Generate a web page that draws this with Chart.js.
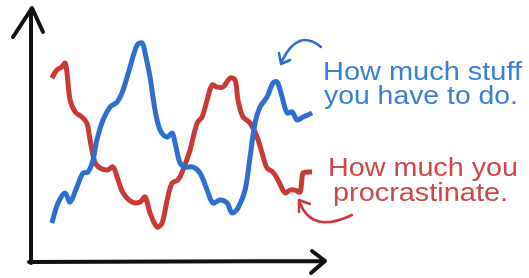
<!DOCTYPE html>
<html lang="en">
  <head>
    <meta charset="UTF-8" />
    <title>Stuff vs procrastination</title>
    <script src="https://cdn.jsdelivr.net/npm/chart.js@4"></script>
    <style>
      body { margin: 0; background: #fff; }
      #chartContainer { width: 529px; height: 278px; }
      #lineChart { filter: blur(0.6px); }
    </style>
  </head>

  <body>
    <div id="chartContainer">
      <canvas id="lineChart"></canvas>
    </div>

    <script>
      // time runs 0..100 along the x axis, amount 0..100 up the y axis
      const stuffX = [7.1, 9.2, 11.6, 13.3, 15.6, 17.7, 19.4, 21.1, 22.4, 24.5, 26.9, 29.3, 31.3, 33.7, 36.1, 37.8, 38.8, 40.5, 42.2, 43.9, 46.3, 48.0, 49.0, 50.7, 52.4, 55.1, 57.5, 59.9, 61.9, 64.3, 66.7, 68.4, 70.4, 72.8, 74.5, 76.2, 77.9, 80.3, 82.3, 83.7, 85.4, 87.1, 88.8, 90.5, 92.5, 94.2, 95.6];
      const stuffY = [15.4, 23.2, 27.2, 23.6, 29.5, 35.0, 35.4, 40.2, 48.0, 55.9, 61.0, 63.0, 67.7, 76.8, 85.4, 86.2, 82.3, 72.8, 59.8, 52.0, 49.2, 50.8, 46.9, 39.0, 37.4, 37.4, 35.0, 28.3, 23.2, 24.4, 23.2, 19.3, 21.3, 28.3, 41.3, 54.7, 61.0, 65.0, 70.5, 70.9, 65.0, 58.7, 59.1, 55.9, 57.1, 57.9, 58.7];

      const procX = [7.1, 8.8, 10.5, 11.6, 12.2, 13.3, 15.0, 17.3, 19.0, 20.1, 21.8, 23.5, 25.9, 27.9, 29.6, 31.3, 34.4, 37.1, 38.8, 40.5, 42.9, 44.6, 46.3, 48.0, 50.0, 51.7, 54.1, 56.5, 58.2, 59.9, 61.6, 63.3, 65.3, 67.7, 69.4, 70.4, 72.1, 74.5, 76.9, 78.6, 80.3, 82.3, 84.0, 86.4, 88.1, 89.8, 91.5, 92.5, 93.9, 95.6];
      const procY = [72.4, 75.6, 76.8, 78.3, 74.8, 63.8, 59.1, 57.1, 54.7, 48.0, 39.0, 37.0, 36.2, 37.4, 32.3, 27.2, 23.6, 23.6, 25.6, 19.3, 13.8, 15.4, 24.4, 31.1, 32.3, 36.2, 44.1, 54.7, 57.1, 63.8, 69.7, 68.9, 68.9, 72.4, 71.7, 63.8, 57.1, 54.7, 49.2, 42.9, 37.0, 35.4, 32.3, 27.2, 28.3, 28.3, 27.6, 35.0, 35.4, 35.4];

      const stuffLabel = ["How much stuff", "you have to do."];
      const procLabel = ["How much you", "procrastinate."];

      const blue = "#2c6fd0";
      const red = "#c93a36";

      function toPoints(xs, ys) {
        return xs.map((x, i) => ({ x: x, y: ys[i] }));
      }

      function fitText(ctx, text, left, baseline, width) {
        const w = ctx.measureText(text).width;
        ctx.save();
        ctx.translate(left, baseline);
        ctx.scale(width / w, 1);
        ctx.fillText(text, 0, 0);
        ctx.restore();
      }

      // hand drawn axes, arrows and notes
      const doodle = {
        id: "doodle",
        beforeDatasetsDraw(chart) {
          const ctx = chart.ctx;
          const xs = chart.scales.x;
          const ys = chart.scales.y;
          const x0 = xs.getPixelForValue(0);
          const y0 = ys.getPixelForValue(0);
          const xEnd = xs.getPixelForValue(100);
          const yEnd = ys.getPixelForValue(100);

          ctx.save();
          ctx.strokeStyle = "#111";
          ctx.lineWidth = 4;
          ctx.lineCap = "round";
          ctx.lineJoin = "round";
          ctx.beginPath();
          ctx.moveTo(x0, y0 + 1);
          ctx.lineTo(x0, yEnd + 1);
          ctx.moveTo(x0 - 18, yEnd + 29);
          ctx.lineTo(x0 + 1, yEnd);
          ctx.lineTo(x0 + 12, yEnd + 24);
          ctx.moveTo(x0 - 2, y0);
          ctx.lineTo(xEnd, y0 - 1);
          ctx.moveTo(xEnd - 13, y0 - 11);
          ctx.lineTo(xEnd, y0 - 1);
          ctx.lineTo(xEnd - 14, y0 + 11);
          ctx.stroke();
          ctx.restore();
        },
        afterDatasetsDraw(chart) {
          const ctx = chart.ctx;
          ctx.save();
          ctx.lineCap = "round";
          ctx.lineJoin = "round";
          ctx.lineWidth = 2.5;

          // blue curved arrow
          ctx.strokeStyle = blue;
          ctx.beginPath();
          ctx.moveTo(321, 47);
          ctx.quadraticCurveTo(298, 28, 282, 61);
          ctx.moveTo(279, 53);
          ctx.lineTo(281, 64);
          ctx.lineTo(290, 60);
          ctx.stroke();

          // red curved arrow
          ctx.strokeStyle = red;
          ctx.beginPath();
          ctx.moveTo(352, 215);
          ctx.quadraticCurveTo(312, 234, 300, 203);
          ctx.moveTo(299, 212);
          ctx.lineTo(299, 200);
          ctx.lineTo(310, 204);
          ctx.stroke();

          ctx.font = '25px "Liberation Sans", Arial, sans-serif';
          ctx.fillStyle = "#3a7fd6";
          fitText(ctx, stuffLabel[0], 323, 80, 199);
          fitText(ctx, stuffLabel[1], 324, 104, 194);
          ctx.fillStyle = "#cf4644";
          fitText(ctx, procLabel[0], 328, 176, 190);
          fitText(ctx, procLabel[1], 333, 201, 175);
          ctx.restore();
        },
      };

      new Chart(document.getElementById("lineChart"), {
        type: "line",
        data: {
          datasets: [
            {
              label: stuffLabel.join(" "),
              data: toPoints(stuffX, stuffY),
              borderColor: blue,
              borderWidth: 5,
              pointRadius: 0,
              tension: 0.35,
            },
            {
              label: procLabel.join(" "),
              data: toPoints(procX, procY),
              borderColor: red,
              borderWidth: 5,
              pointRadius: 0,
              tension: 0.35,
            },
          ],
        },
        options: {
          responsive: true,
          maintainAspectRatio: false,
          animation: false,
          layout: { padding: { left: 31, right: 204, top: 8, bottom: 16 } },
          plugins: { legend: { display: false }, tooltip: { enabled: false } },
          scales: {
            x: { type: "linear", min: 0, max: 100, display: false },
            y: { min: 0, max: 100, display: false },
          },
        },
        plugins: [doodle],
      });
    </script>
  </body>
</html>
